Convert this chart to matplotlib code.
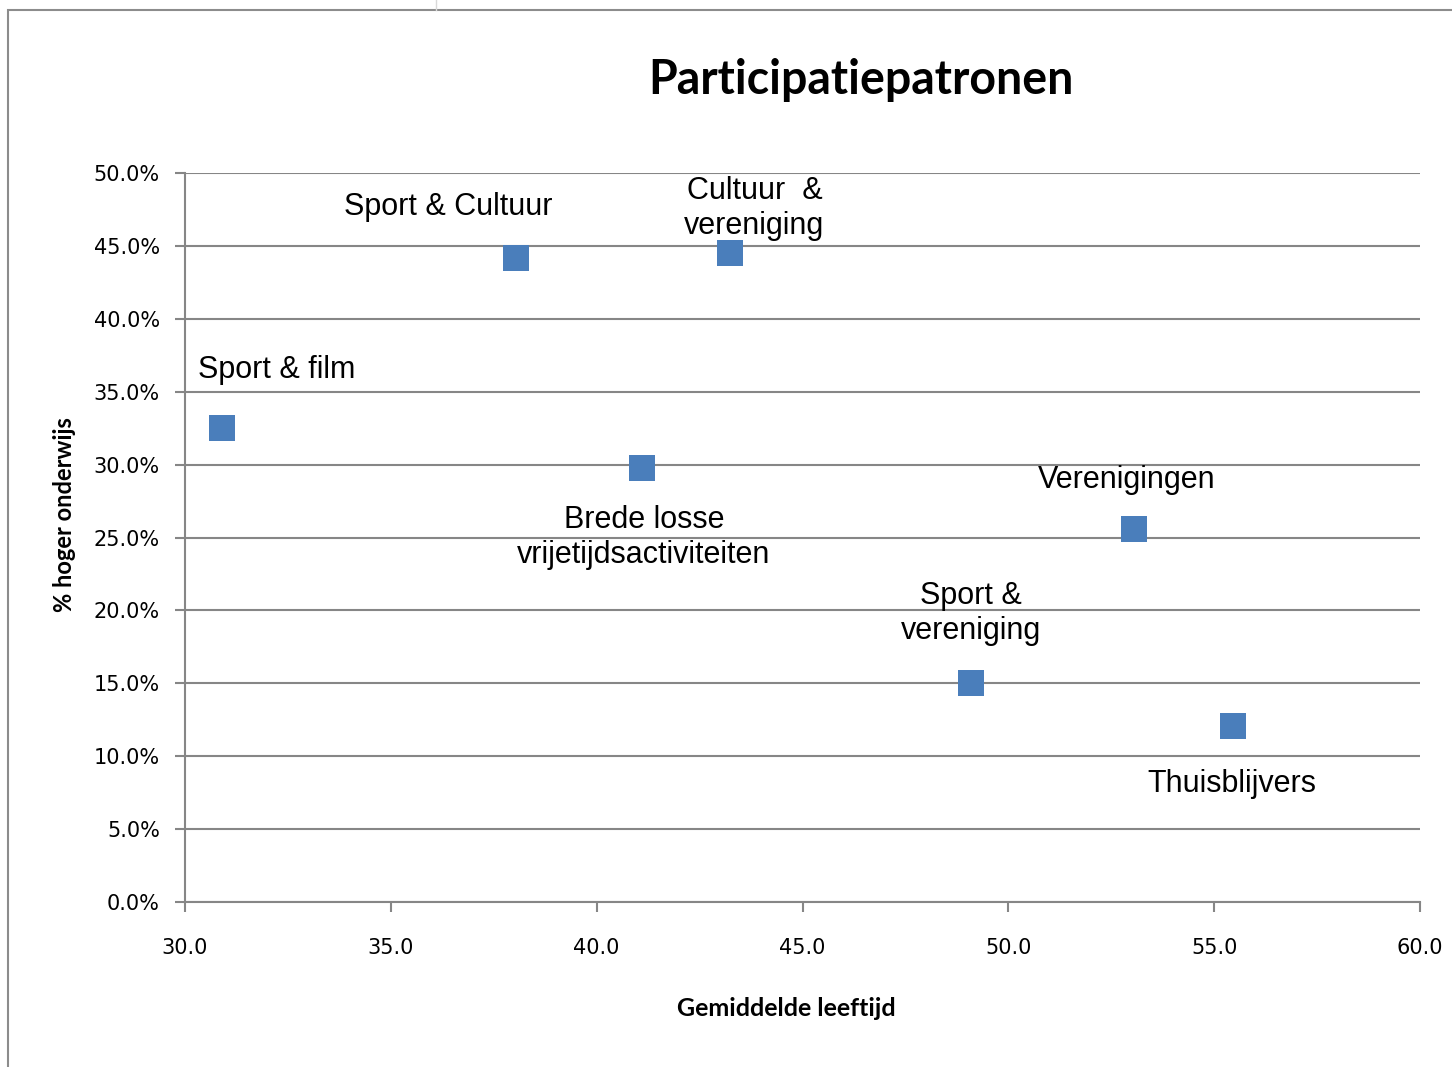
import matplotlib.pyplot as plt
from matplotlib.patches import Rectangle
from matplotlib.lines import Line2D
from matplotlib.ticker import FuncFormatter, MultipleLocator

# Participatiepatronen: gemiddelde leeftijd vs % hoger onderwijs
labels = ["Sport & film", "Sport & Cultuur", "Cultuur  &\nvereniging",
          "Brede losse\nvrijetijdsactiviteiten", "Verenigingen",
          "Sport &\nvereniging", "Thuisblijvers"]
age = [30.9, 38.05, 43.25, 41.1, 53.05, 49.1, 55.45]
higher_edu = [0.325, 0.442, 0.445, 0.298, 0.256, 0.150, 0.121]

# label offsets in pixels relative to the marker
offsets = [(55, 58), (-68, 51), (24, 45), (2, -70), (-7, 49), (0, 70), (-1, -58)]

grey = "#868686"
blue = "#4A7EBB"

fig = plt.figure(figsize=(14.52, 10.67), dpi=100)
ax = fig.add_axes([0.1274, 0.1546, 0.8506, 0.6833])

ax.scatter(age, higher_edu, marker="s", s=330, color=blue, zorder=3, linewidths=0)

for lab, x, y, (dx, dy) in zip(labels, age, higher_edu, offsets):
    ax.annotate(lab, (x, y), xytext=(dx, dy), textcoords="offset pixels",
                ha="center", va="center", fontsize=22, family="Liberation Sans",
                linespacing=1.22, zorder=4)

ax.set_xlim(30, 60)
ax.set_ylim(0, 0.5)
ax.xaxis.set_major_locator(MultipleLocator(5))
ax.yaxis.set_major_locator(MultipleLocator(0.05))
ax.xaxis.set_major_formatter(FuncFormatter(lambda v, p: f"{v:.1f}"))
ax.yaxis.set_major_formatter(FuncFormatter(lambda v, p: f"{v * 100:.1f}%"))

ax.grid(axis="y", color=grey, linewidth=1.5)
ax.set_axisbelow(True)
for side in ["top", "right"]:
    ax.spines[side].set_visible(False)
for side in ["left", "bottom"]:
    ax.spines[side].set_color(grey)
    ax.spines[side].set_linewidth(1.5)
ax.tick_params(axis="both", colors=grey, width=1.5, length=7, direction="out",
               labelcolor="black", labelsize=15)
ax.tick_params(axis="y", pad=11)
ax.tick_params(axis="x", pad=19)

ax.set_xlabel("Gemiddelde leeftijd", fontsize=18, fontweight="bold", family="Lato")
ax.set_ylabel("% hoger onderwijs", fontsize=17, fontweight="bold", family="Lato")
ax.xaxis.set_label_coords(0.487, -0.130)
ax.yaxis.set_label_coords(-0.088, 0.531)

fig.text(0.593, 0.925, "Participatiepatronen", ha="center", va="center",
         fontsize=33.5, fontweight="bold", family="Lato")

# chart area border
fig.patches.append(Rectangle((8 / 1452, -0.1), 1.1, 1 - 10 / 1067 + 0.1,
                             transform=fig.transFigure, fill=False,
                             edgecolor="#8c8c8c", linewidth=1.5))
fig.lines.append(Line2D([436 / 1452, 436 / 1452], [1 - 10 / 1067, 1],
                        transform=fig.transFigure, color="#d9d9d9", linewidth=1))

fig.savefig("out.png", dpi=100)
